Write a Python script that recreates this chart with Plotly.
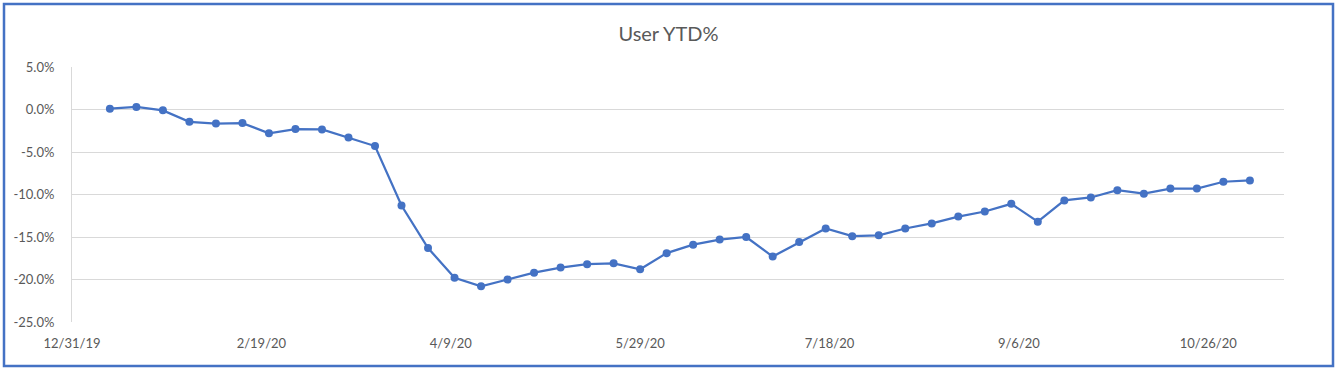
import datetime as dt
import plotly.graph_objects as go

# ---- data ----
start_date = dt.date(2020, 1, 10)
n_weeks = 44
dates = [start_date + dt.timedelta(days=7 * i) for i in range(n_weeks)]
ytd_pct = [
    0.1, 0.3, -0.1, -1.45, -1.65, -1.6, -2.8, -2.3, -2.35, -3.3, -4.3,
    -11.3, -16.3, -19.8, -20.8, -20.0, -19.2, -18.6, -18.2, -18.1, -18.8,
    -16.9, -15.9, -15.3, -15.0, -17.3, -15.6, -14.0, -14.9, -14.8,
    -14.0, -13.4, -12.6, -12.0, -11.1, -13.2, -10.7, -10.35, -9.5, -9.9,
    -9.3, -9.3, -8.5, -8.35,
]
y_tickvals = [5, 0, -5, -10, -15, -20, -25]
y_ticktext = ["5.0%", "0.0%", "-5.0%", "-10.0%", "-15.0%", "-20.0%", "-25.0%"]
x_tickvals = [dt.date(2019, 12, 31) + dt.timedelta(days=50 * i) for i in range(7)]
x_ticktext = ["12/31/19", "2/19/20", "4/9/20", "5/29/20", "7/18/20", "9/6/20", "10/26/20"]
x_range = [dt.date(2019, 12, 31), dt.date(2020, 11, 15)]

# ---- figure ----
W, H = 1337, 370
L, R, T, B = 72, 53, 67, 48
pw, ph = W - L - R, H - T - B

fig = go.Figure()
fig.add_trace(go.Scatter(
    x=dates, y=ytd_pct, mode="lines+markers",
    line=dict(color="#4472C4", width=2.25),
    marker=dict(color="#4472C4", size=8),
    showlegend=False,
))

font = "Lato, 'Open Sans', sans-serif"
fig.update_layout(
    width=W, height=H,
    margin=dict(l=L, r=R, t=T, b=B),
    paper_bgcolor="white", plot_bgcolor="white",
    font=dict(family=font, color="#595959", size=13),
    title=dict(text="User YTD%", x=0.5, xanchor="center", y=1 - 34 / H,
               yanchor="middle", yref="container",
               font=dict(size=20, color="#595959", family=font)),
    xaxis=dict(
        type="date", range=x_range, tickvals=x_tickvals, ticktext=x_ticktext,
        showgrid=False, showline=False, zeroline=False,
        ticklabelstandoff=12, tickfont=dict(size=13, color="#595959"),
    ),
    yaxis=dict(
        range=[-25, 5], tickvals=y_tickvals, ticktext=y_ticktext,
        showgrid=True, gridcolor="#D9D9D9", gridwidth=1,
        zeroline=False, showline=True, linecolor="#D9D9D9", linewidth=1,
        ticklabelstandoff=14, tickfont=dict(size=13, color="#595959"),
    ),
)

# outer chart border (blue frame)
bx0, bx1, by0, by1 = 4, W - 4, 4, H - 4
fig.add_shape(
    type="rect", xref="paper", yref="paper",
    x0=(bx0 - L) / pw, x1=(bx1 - L) / pw,
    y0=(H - B - by1) / ph, y1=(H - B - by0) / ph,
    line=dict(color="#4472C4", width=2.5), fillcolor="rgba(0,0,0,0)",
    layer="above",
)

fig.write_html(
    "out.html",
    config={"displayModeBar": False},
    post_script="document.body.style.margin='0';document.body.style.overflow='hidden';",
)
